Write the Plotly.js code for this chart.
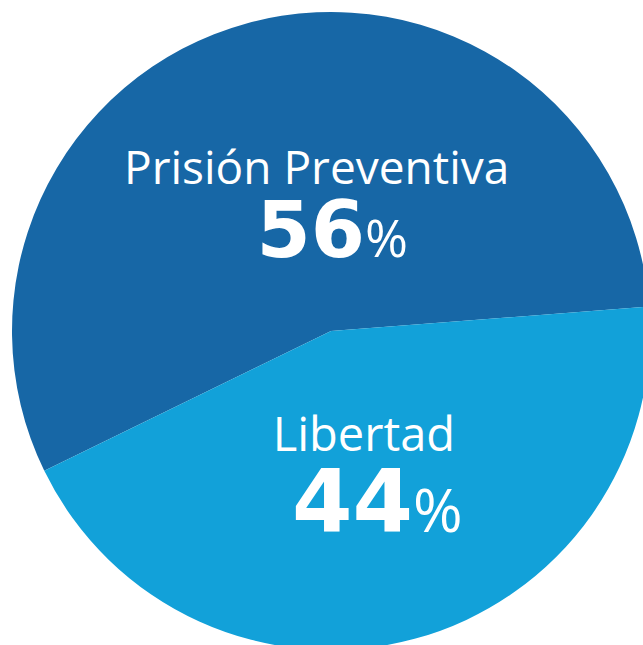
<!DOCTYPE html>
<html><head><meta charset="utf-8">
<script src="https://cdn.plot.ly/plotly-3.0.1.min.js"></script>
<style>html,body{margin:0;padding:0;overflow:hidden;background:#fff;width:643px;height:645px}</style>
</head><body><div id="chart"></div>
<script>
const labels = ["Prisión Preventiva", "Libertad"];
const values = [56, 44];
const colors = ["#1767a6", "#12a1d9"];

const W = 650, H = 650;
const px = x => x / W;
const py = y => 1 - y / H;

const data = [{
  type: "pie",
  labels: labels,
  values: values,
  sort: false,
  direction: "clockwise",
  rotation: -116,
  marker: {colors: colors, line: {width: 0}},
  textinfo: "none",
  hoverinfo: "label+percent",
  domain: {x: [12 / W, 1], y: [0, 1 - 12 / H]}
}];

function block(i, labSize, numSize, pctSize, padPx) {
  const pad = '<span style="font-family:Open Sans;font-size:' + padPx + 'px">\u00a0\u00a0\u00a0\u00a0</span>';
  return '<span style="font-family:Open Sans;font-size:' + labSize + 'px">' + labels[i] + '</span><br>' +
    pad +
    '<span style="font-family:DejaVu Sans;font-size:' + numSize + 'px;font-weight:bold">' + values[i] + '</span>' +
    '<span style="font-family:Open Sans;font-size:' + pctSize + 'px">%</span>';
}

const ann = [
  {xref: "paper", yref: "paper", x: px(316), y: py(134), xanchor: "center", yanchor: "top",
   align: "center", borderpad: 0, showarrow: false,
   text: block(0, 46, 78, 52, 30), font: {family: "Open Sans", size: 56.2, color: "#fff"}},
  {xref: "paper", yref: "paper", x: px(364), y: py(400), xanchor: "center", yanchor: "top",
   align: "center", borderpad: 0, showarrow: false,
   text: block(1, 47, 87, 60, 26), font: {family: "Open Sans", size: 62.3, color: "#fff"}}
];

const layout = {
  width: W, height: H,
  margin: {l: 0, r: 0, t: 0, b: 0},
  paper_bgcolor: "#fff",
  showlegend: false,
  annotations: ann
};
Plotly.newPlot("chart", data, layout, {displayModeBar: false, staticPlot: true});
</script></body></html>
